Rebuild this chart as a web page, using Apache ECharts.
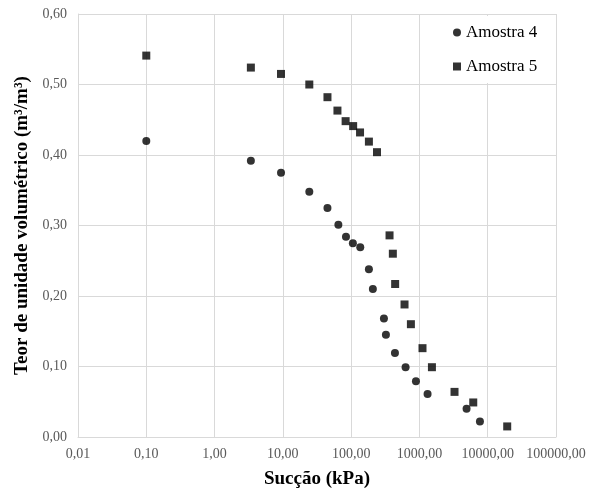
<!DOCTYPE html>
<html>
<head>
<meta charset="utf-8">
<script src="https://cdn.jsdelivr.net/npm/echarts@6/dist/echarts.min.js"></script>
<style>
  html, body { margin: 0; padding: 0; background: #fff; }
  #chart { width: 598px; height: 494px; }
</style>
</head>
<body>
<div id="chart"></div>
<script>
// Suction (kPa) and volumetric water content (m³/m³) for each sample
const suction4 = [0.1, 3.4, 9.4, 24.4, 45, 65, 84, 106, 136, 182, 208, 302, 323, 438, 627, 889, 1316, 4900, 7690];
const theta4   = [0.420, 0.392, 0.375, 0.348, 0.325, 0.301, 0.284, 0.275, 0.269, 0.238, 0.210, 0.168, 0.145, 0.119, 0.099, 0.079, 0.061, 0.040, 0.022];

const suction5 = [0.1, 3.4, 9.4, 24.4, 45, 63, 83, 107, 135, 182, 239, 365, 408, 441, 605, 750, 1109, 1524, 3265, 6140, 19300];
const theta5   = [0.541, 0.524, 0.515, 0.500, 0.482, 0.463, 0.448, 0.441, 0.432, 0.419, 0.404, 0.286, 0.260, 0.217, 0.188, 0.160, 0.126, 0.099, 0.064, 0.049, 0.015];

const seriesNames = ['Amostra 4', 'Amostra 5'];
const xTitle = 'Sucção (kPa)';
const yTitle = 'Teor de unidade volumétrico (m³/m³)';

const FONT = 'Liberation Serif';
const comma = v => Number(v).toFixed(2).replace('.', ',');
const pairs = (xs, ys) => xs.map((x, i) => [x, ys[i]]);

const chart = echarts.init(document.getElementById('chart'), null, { renderer: 'canvas' });
chart.setOption({
  animation: false,
  backgroundColor: '#fff',
  textStyle: { fontFamily: FONT },
  grid: { left: 78, right: 42, top: 14, bottom: 56, containLabel: false },
  legend: {
    orient: 'vertical',
    left: 448,
    top: 16,
    z: 10,
    padding: [8, 12, 8, 5],
    backgroundColor: '#ffffff',
    itemWidth: 8,
    itemHeight: 8,
    itemGap: 17,
    textStyle: { fontFamily: FONT, fontSize: 17, color: '#000' },
    data: [
      { name: seriesNames[0], icon: 'circle' },
      { name: seriesNames[1], icon: 'rect' }
    ]
  },
  xAxis: {
    type: 'log',
    logBase: 10,
    min: 0.01,
    max: 100000,
    name: xTitle,
    nameLocation: 'middle',
    nameGap: 33,
    nameTextStyle: { fontFamily: FONT, fontSize: 19, fontWeight: 'bold', color: '#000' },
    axisLine: { show: true, lineStyle: { color: '#d9d9d9', width: 1 } },
    axisTick: { show: false },
    minorTick: { show: false },
    splitLine: { show: true, lineStyle: { color: '#d9d9d9', width: 1 } },
    axisLabel: { fontFamily: FONT, fontSize: 14, color: '#595959', margin: 10, formatter: comma }
  },
  yAxis: {
    type: 'value',
    min: 0,
    max: 0.6,
    interval: 0.1,
    name: yTitle,
    nameLocation: 'middle',
    nameGap: 40,
    nameTextStyle: { fontFamily: FONT, fontSize: 19, fontWeight: 'bold', color: '#000' },
    axisLine: { show: true, lineStyle: { color: '#d9d9d9', width: 1 } },
    axisTick: { show: false },
    splitLine: { show: true, lineStyle: { color: '#d9d9d9', width: 1 } },
    axisLabel: { fontFamily: FONT, fontSize: 14, color: '#595959', margin: 11, formatter: comma }
  },
  series: [
    {
      name: seriesNames[0],
      type: 'scatter',
      symbol: 'circle',
      symbolSize: 8,
      itemStyle: { color: '#000' },
      data: pairs(suction4, theta4)
    },
    {
      name: seriesNames[1],
      type: 'scatter',
      symbol: 'rect',
      symbolSize: 8,
      itemStyle: { color: '#000' },
      data: pairs(suction5, theta5)
    }
  ]
});
</script>
</body>
</html>
